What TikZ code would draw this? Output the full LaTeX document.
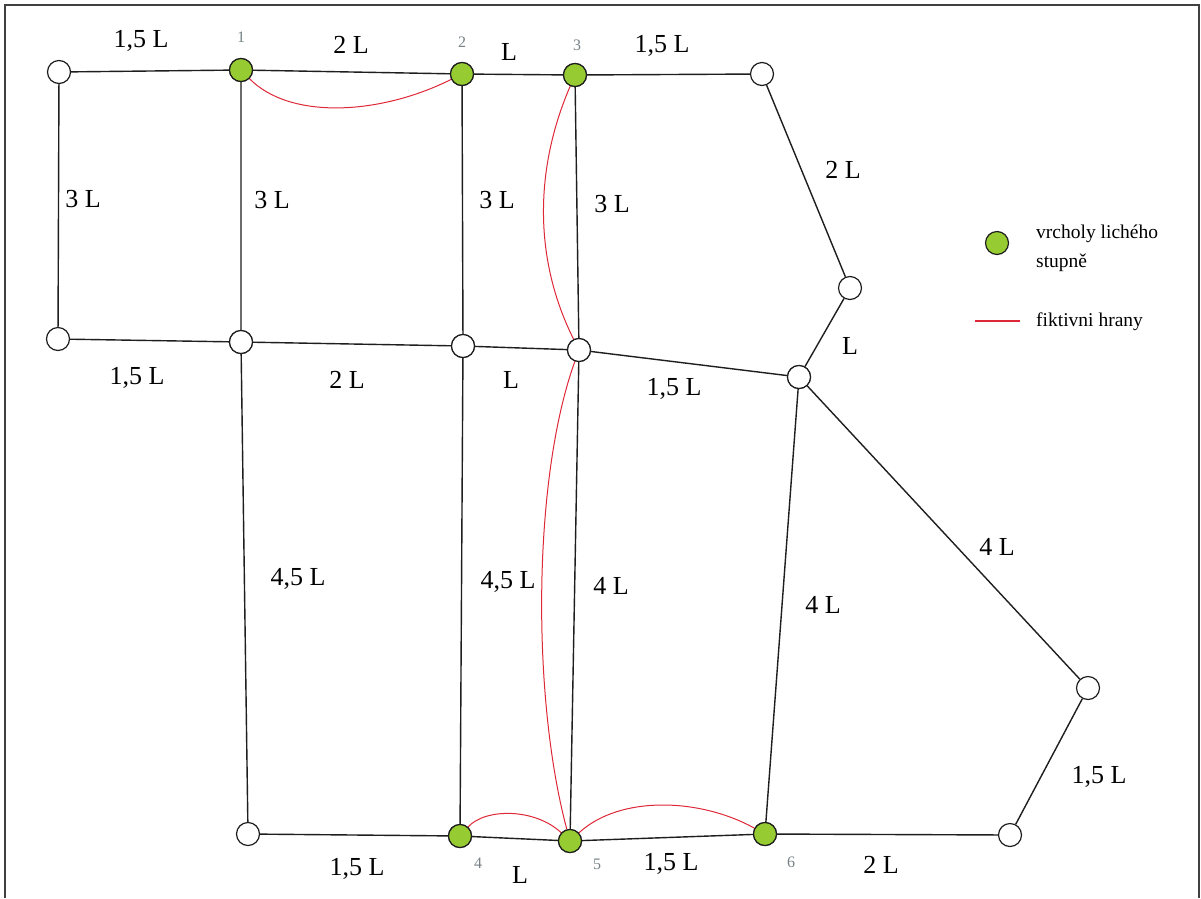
\documentclass[tikz,border=0pt]{standalone}
\usepackage{fontspec}
\setmainfont{Liberation Serif}
\definecolor{odd}{RGB}{150,204,50}
\definecolor{fict}{RGB}{222,40,55}
\definecolor{numc}{RGB}{120,130,135}
\definecolor{edgec}{RGB}{30,30,30}
\begin{document}
\begin{tikzpicture}[x=1pt,y=-1pt,
  vtx/.style={circle,draw=edgec,line width=1.2pt,fill=white,minimum size=23pt,inner sep=0pt},
  oddv/.style={vtx,fill=odd},
  edg/.style={draw=edgec,line width=1.4pt},
  fk/.style={draw=fict,line width=1pt},
  lab/.style={font=\fontsize{26}{30}\selectfont,inner sep=0pt},
  num/.style={font=\fontsize{16}{18}\selectfont,text=numc,inner sep=0pt},
  leg/.style={font=\fontsize{19.5}{29}\selectfont,inner sep=0pt,anchor=west,align=left}]
\useasboundingbox (0,0) rectangle (1201,898);
\fill[white] (0,0) rectangle (1201,898);
\draw[line width=1.8pt,draw=black!75] (5,898) -- (5,5) -- (1199,5) -- (1199,898);

% vertices
\node[vtx] (a0) at (59,72) {};
\node[oddv] (n1) at (241,70) {};
\node[oddv] (n2) at (462,74) {};
\node[oddv] (n3) at (575,75) {};
\node[vtx] (b) at (762,74) {};
\node[vtx] (c) at (850,288) {};
\node[vtx] (d) at (799,377) {};
\node[vtx] (l0) at (58,339) {};
\node[vtx] (m1) at (241,342) {};
\node[vtx] (m2) at (463,346) {};
\node[vtx] (m3) at (579,350) {};
\node[vtx] (e) at (1088,688) {};
\node[vtx] (f) at (1010,835) {};
\node[oddv] (g6) at (765,834) {};
\node[oddv] (g5) at (570,841) {};
\node[oddv] (g4) at (460,836) {};
\node[vtx] (h) at (248,834) {};

% edges
\path[edg] (a0)--(n1) (n1)--(n2) (n2)--(n3) (n3)--(b) (b)--(c) (c)--(d)
  (a0)--(l0) (n1)--(m1) (n2)--(m2) (n3)--(m3)
  (l0)--(m1) (m1)--(m2) (m2)--(m3) (m3)--(d)
  (m1)--(h) (m2)--(g4) (m3)--(g5) (d)--(g6) (d)--(e) (e)--(f)
  (h)--(g4) (g4)--(g5) (g5)--(g6) (g6)--(f);

% fictitious edges
\path[fk] (n1) .. controls (290,120) and (380,115) .. (n2);
\path[fk] (n3) .. controls (534,170) and (534,260) .. (m3);
\path[fk] (m3) .. controls (532,480) and (532,700) .. (g5);
\path[fk] (g4) .. controls (485,808) and (535,808) .. (g5);
\path[fk] (g5) .. controls (620,795) and (700,798) .. (g6);

% redraw vertices on top
\foreach \v/\s in {n1/oddv,n2/oddv,n3/oddv,g4/oddv,g5/oddv,g6/oddv,m3/vtx,m1/vtx,m2/vtx,d/vtx}
  \node[\s] at (\v) {};

% edge labels
\node[lab] (t1) at (141,41) {1,5 L};
\node[lab] (t2) at (351,45) {2 L};
\node[lab] (t3) at (509,52) {L};
\node[lab] (t4) at (662,46) {1,5 L};
\node[lab] (t5) at (83,199) {3 L};
\node[lab] (t6) at (272,200) {3 L};
\node[lab] (t7) at (497,200) {3 L};
\node[lab] (t8) at (612,204) {3 L};
\node[lab] (t9) at (843,170) {2 L};
\node[lab] (t10) at (850,346) {L};
\node[lab] (t11) at (137,378) {1,5 L};
\node[lab] (t12) at (347,380) {2 L};
\node[lab] (t13) at (511,380) {L};
\node[lab] (t14) at (674,389) {1,5 L};
\node[lab] (t15) at (298,579) {4,5 L};
\node[lab] (t16) at (508,582) {4,5 L};
\node[lab] (t17) at (611,586) {4 L};
\node[lab] (t18) at (823,605) {4 L};
\node[lab] (t19) at (997,547) {4 L};
\node[lab] (t20) at (1099,777) {1,5 L};
\node[lab] (t21) at (357,869) {1,5 L};
\node[lab] (t22) at (520,875) {L};
\node[lab] (t23) at (671,864) {1,5 L};
\node[lab] (t24) at (881,865) {2 L};

% vertex numbers
\node[num] (k1) at (241,37) {1};
\node[num] (k2) at (462,42) {2};
\node[num] (k3) at (577,45) {3};
\node[num] (k4) at (478,863) {4};
\node[num] (k5) at (597,864) {5};
\node[num] (k6) at (791,862) {6};

% legend
\node[oddv] (lg) at (997,243) {};
\node[leg] (lgt) at (1036,248) {vrcholy lichého\\stupně};
\coordinate (r1) at (975,321);
\coordinate (r2) at (1020,321);
\draw[draw=fict,line width=1.2pt] (r1) -- (r2);
\node[leg] (lgr) at (1036,322) {fiktivni hrany};
\end{tikzpicture}
\end{document}
